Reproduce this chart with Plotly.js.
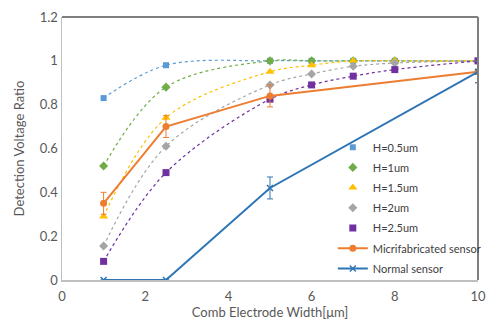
<!DOCTYPE html>
<html>
<head>
<meta charset="utf-8">
<script src="https://cdn.plot.ly/plotly-3.0.1.min.js"></script>
<style>html,body{margin:0;padding:0;background:#fff;}#chart{width:488px;height:320px;}</style>
</head>
<body>
<div id="chart"></div>
<script>
const widthsH = [1, 2.5, 5, 6, 7, 8, 10];
const h05 = [0.83, 0.98, 1.0, 1.0, 1.0, 1.0, 1.0];
const h10 = [0.52, 0.88, 1.0, 1.0, 1.0, 1.0, 1.0];
const h15 = [0.29, 0.74, 0.95, 0.98, 1.0, 1.0, 1.0];
const h20 = [0.155, 0.61, 0.89, 0.94, 0.975, 0.99, 1.0];
const h25 = [0.085, 0.49, 0.825, 0.89, 0.93, 0.96, 1.0];
const widthsMicro = [1, 2.5, 5, 10];
const micro = [0.35, 0.70, 0.84, 0.95];
const microErr = [0.05, 0.05, 0.05, 0.05];
const widthsNormal = [1, 2.5, 5, 10];
const normal = [0, 0, 0.42, 0.95];
const normalErr = [0, 0, 0.05, 0.05];
const names = ['H=0.5um', 'H=1um', 'H=1.5um', 'H=2um', 'H=2.5um', 'Micrifabricated sensor', 'Normal sensor'];
const xTicks = [0, 2, 4, 6, 8, 10];
const yTicks = [0, 0.2, 0.4, 0.6, 0.8, 1, 1.2];

const hSeries = [
  {y: h05, color: '#5B9BD5', symbol: 'square', size: 6},
  {y: h10, color: '#70AD47', symbol: 'diamond', size: 7},
  {y: h15, color: '#FFC000', symbol: 'triangle-up', size: 8},
  {y: h20, color: '#A5A5A5', symbol: 'diamond', size: 7},
  {y: h25, color: '#7030A0', symbol: 'square', size: 7}
];
const traces = [];
hSeries.forEach((s, i) => {
  traces.push({x: widthsH, y: s.y, type: 'scatter', mode: 'lines', showlegend: false, hoverinfo: 'skip',
    line: {color: s.color, dash: 'dot', width: 1.2, shape: 'spline', smoothing: 1}});
});
hSeries.forEach((s, i) => {
  traces.push({x: widthsH, y: s.y, type: 'scatter', mode: 'markers', name: names[i], legendgroup: 'g' + i,
    marker: {color: s.color, symbol: s.symbol, size: s.size}});
});
traces.push({x: widthsMicro, y: micro, type: 'scatter', mode: 'lines+markers', name: names[5], legendgroup: 'g5',
  line: {color: '#ED7D31', width: 2}, marker: {color: '#ED7D31', symbol: 'circle', size: 7},
  error_y: {type: 'data', array: microErr, visible: true, color: '#ED7D31', thickness: 1, width: 3}});
traces.push({x: widthsNormal, y: normal, type: 'scatter', mode: 'lines+markers', name: names[6], legendgroup: 'g6',
  line: {color: '#2E75B6', width: 2}, marker: {color: '#2E75B6', symbol: 'x-thin-open', size: 6, line: {color: '#2E75B6', width: 1.5}},
  error_y: {type: 'data', array: normalErr, visible: true, color: '#2E75B6', thickness: 1, width: 3}});

const fontFam = 'Lato, "Open Sans", sans-serif';
const layout = {
  width: 488, height: 320,
  margin: {l: 62, r: 10, t: 17, b: 40, autoexpand: false},
  paper_bgcolor: '#fff', plot_bgcolor: '#fff',
  font: {family: fontFam, color: '#595959', size: 13},
  showlegend: true,
  legend: {x: 0.651, y: 0.56, xanchor: 'left', yanchor: 'top', bgcolor: 'rgba(255,255,255,0)',
    font: {size: 11, color: '#404040', family: fontFam}, traceorder: 'grouped', tracegroupgap: 1.2, itemwidth: 30},
  xaxis: {range: [0, 10], tickvals: xTicks, ticktext: xTicks.map(String), showgrid: false, zeroline: false,
    showline: true, linecolor: '#BFBFBF', linewidth: 1.5, ticks: '', ticklabelstandoff: 4, tickfont: {size: 13, color: '#595959'},
    title: {text: 'Comb Electrode Width[μm]', font: {size: 13, color: '#595959'}, standoff: 11}},
  yaxis: {range: [0, 1.2], tickvals: yTicks, ticktext: yTicks.map(String), showgrid: false, zeroline: false,
    showline: true, linecolor: '#BFBFBF', linewidth: 1.5, ticks: '', tickfont: {size: 13, color: '#595959'},
    title: {text: 'Detection Voltage Ratio', font: {size: 13, color: '#595959'}, standoff: 12}},
  shapes: [
    {type: 'line', xref: 'paper', yref: 'paper', x0: 0, x1: 1, y0: 1, y1: 1, line: {color: '#7F7F7F', width: 2}},
    {type: 'line', xref: 'paper', yref: 'paper', x0: 1, x1: 1, y0: 0, y1: 1, line: {color: '#7F7F7F', width: 2}}
  ]
};
Plotly.newPlot('chart', traces, layout, {displayModeBar: false, staticPlot: true});
</script>
</body>
</html>
